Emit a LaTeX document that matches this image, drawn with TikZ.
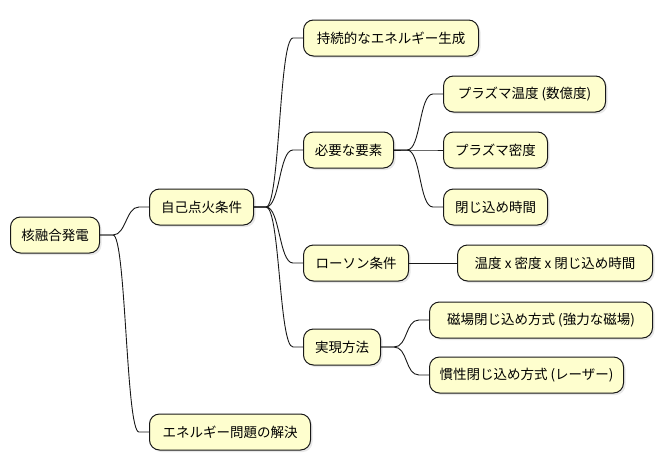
\documentclass[tikz,border=0pt]{standalone}
\usepackage{fontspec}
\setmainfont{Noto Sans CJK JP}
\usetikzlibrary{shadows}
\definecolor{nodefill}{HTML}{FEFECE}
\definecolor{edge}{HTML}{181818}

\begin{document}
\begin{tikzpicture}[x=1pt,y=-1pt,
    blk/.style={rectangle,draw=edge,fill=nodefill,rounded corners=10pt,anchor=west,minimum height=36pt,inner xsep=0pt,font=\fontsize{13.5}{16}\selectfont,line width=1pt,drop shadow={shadow xshift=2pt,shadow yshift=-2pt,opacity=0.18}},
    link/.style={draw=edge,line width=0.9pt},
]
\useasboundingbox (0,0) rectangle (663,471);

% Root
\node[blk,minimum width=89pt] (root) at (10,235) {核融合発電};

% Level 1
\node[blk,minimum width=104pt] (ign) at (149,207) {自己点火条件};
\node[blk,minimum width=161pt] (sol) at (149,432) {エネルギー問題の解決};

% Level 2
\node[blk,minimum width=175pt] (sus) at (303,38) {持続的なエネルギー生成};
\node[blk,minimum width=90pt] (req) at (303,150) {必要な要素};
\node[blk,minimum width=105pt] (law) at (303,263) {ローソン条件};
\node[blk,minimum width=77pt] (how) at (303,347) {実現方法};

% Level 3
\node[blk,minimum width=162pt] (temp) at (443,94) {プラズマ温度 (数億度)};
\node[blk,minimum width=104pt] (dens) at (443,150) {プラズマ密度};
\node[blk,minimum width=104pt] (conf) at (443,207) {閉じ込め時間};
\node[blk,minimum width=195pt] (prod) at (457,263) {温度 x 密度 x 閉じ込め時間};
\node[blk,minimum width=223pt] (mag) at (429,320) {磁場閉じ込め方式 (強力な磁場)};
\node[blk,minimum width=194pt] (inert) at (429,375) {慣性閉じ込め方式 (レーザー)};

% Links
\draw[link] (root.east) -- ++(13,0) .. controls +(13,0) and +(-13,0) .. ([xshift=-10pt]ign.west) -- (ign.west);
\draw[link] (root.east) -- ++(13,0) .. controls +(13,0) and +(-13,0) .. ([xshift=-10pt]sol.west) -- (sol.west);
\draw[link] (ign.east) -- ++(12,0) .. controls +(14,0) and +(-14,0) .. ([xshift=-10pt]sus.west) -- (sus.west);
\draw[link] (ign.east) -- ++(12,0) .. controls +(14,0) and +(-14,0) .. ([xshift=-10pt]req.west) -- (req.west);
\draw[link] (ign.east) -- ++(12,0) .. controls +(14,0) and +(-14,0) .. ([xshift=-10pt]law.west) -- (law.west);
\draw[link] (ign.east) -- ++(12,0) .. controls +(14,0) and +(-14,0) .. ([xshift=-10pt]how.west) -- (how.west);
\draw[link] (req.east) -- ++(13,0) .. controls +(14,0) and +(-14,0) .. ([xshift=-10pt]temp.west) -- (temp.west);
\draw[link] (req.east) -- ++(13,0) .. controls +(14,0) and +(-14,0) .. ([xshift=-10pt]dens.west) -- (dens.west);
\draw[link] (req.east) -- ++(13,0) .. controls +(14,0) and +(-14,0) .. ([xshift=-10pt]conf.west) -- (conf.west);
\draw[link] (law.east) -- (prod.west);
\draw[link] (how.east) -- ++(13,0) .. controls +(14,0) and +(-14,0) .. ([xshift=-10pt]mag.west) -- (mag.west);
\draw[link] (how.east) -- ++(13,0) .. controls +(14,0) and +(-14,0) .. ([xshift=-10pt]inert.west) -- (inert.west);
\end{tikzpicture}
\end{document}
